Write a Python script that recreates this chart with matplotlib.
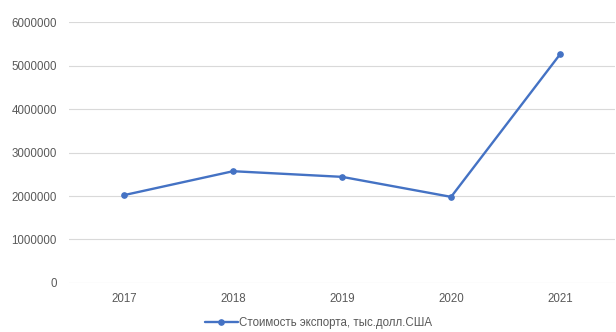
import matplotlib.pyplot as plt

years = ["2017", "2018", "2019", "2020", "2021"]
export_value = [2020000, 2570000, 2440000, 1980000, 5260000]
series_label = "Стоимость экспорта, тыс.долл.США"

plt.rcParams['font.family'] = ['Liberation Sans', 'DejaVu Sans']

fig = plt.figure(figsize=(6.16, 3.32), dpi=100)
ax = fig.add_axes([0.1128, 0.1476, 0.885, 0.7861])

x = range(len(years))
ax.plot(x, export_value, color='#4472C4', linewidth=1.7, marker='o',
        markersize=3.8, label=series_label, solid_capstyle='round')

ax.set_xlim(-0.5, len(years) - 0.5)
ax.set_ylim(0, 6000000)
ax.set_yticks(range(0, 6000001, 1000000))
ax.set_yticklabels([str(v) for v in range(0, 6000001, 1000000)])
ax.set_xticks(list(x))
ax.set_xticklabels(years)

ax.grid(axis='y', color='#d9d9d9', linewidth=0.8)
ax.set_axisbelow(True)
for s in ax.spines.values():
    s.set_visible(False)
ax.tick_params(axis='both', length=0, labelsize=8.3, labelcolor='#595959')
ax.tick_params(axis='y', pad=9)
ax.tick_params(axis='x', pad=7)

fig.legend(loc='center', bbox_to_anchor=(0.517, 0.027), frameon=False,
           fontsize=8.3, labelcolor='#595959', handlelength=2.8,
           handletextpad=0.1)

fig.savefig("out.png", dpi=100)
